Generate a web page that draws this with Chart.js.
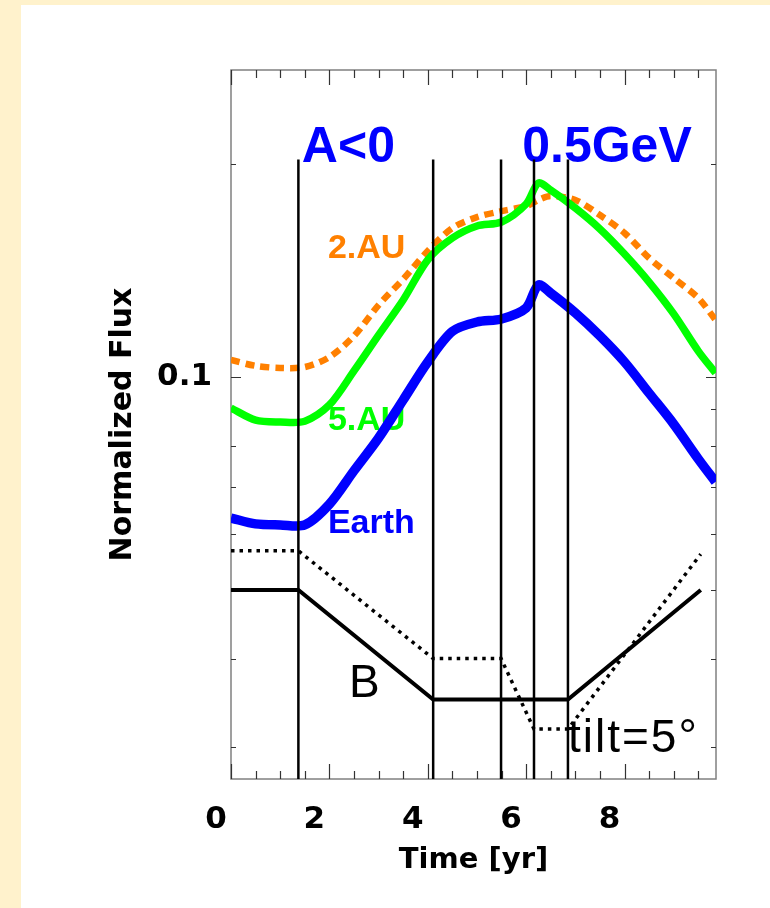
<!DOCTYPE html>
<html>
<head>
<meta charset="utf-8">
<script src="https://cdn.jsdelivr.net/npm/chart.js"></script>
<style>
  html, body { margin: 0; padding: 0; background: #fff; }
  canvas { display: block; }
</style>
</head>
<body>
<canvas id="flux" width="770" height="908"></canvas>
<script>
// time grid [yr] for the flux curves
var time = [0, 0.5, 1, 1.5, 2, 2.5, 3, 3.5, 4, 4.5, 5, 5.5, 6, 6.25, 6.5, 7, 7.5, 8, 8.5, 9, 9.5, 9.85];
// normalized flux at 0.5 GeV
var flux2AU   = [0.1057, 0.1037, 0.1030, 0.1033, 0.1067, 0.1143, 0.1264, 0.1375, 0.1507, 0.1624, 0.1683, 0.1716, 0.1744, 0.1779, 0.1802, 0.1779, 0.1694, 0.1598, 0.1473, 0.1380, 0.1293, 0.1204];
var flux5AU   = [0.0904, 0.0869, 0.0864, 0.0866, 0.0913, 0.1020, 0.1146, 0.1285, 0.1464, 0.1572, 0.1635, 0.1656, 0.1756, 0.1880, 0.1837, 0.1733, 0.1619, 0.1492, 0.1362, 0.1228, 0.1088, 0.1013];
var fluxEarth = [0.0632, 0.0620, 0.0618, 0.0618, 0.0661, 0.0737, 0.0820, 0.0928, 0.1050, 0.1160, 0.1196, 0.1208, 0.1252, 0.1349, 0.1314, 0.1232, 0.1143, 0.1050, 0.0949, 0.0858, 0.0766, 0.0711];

// magnetic field (B) and tilt angle profiles, scaled onto the flux axis
var bTime     = [0, 1.37, 4.11, 6.85, 9.55];
var bValue    = [0.05, 0.05, 0.035, 0.035, 0.05];
var tiltTime  = [0, 1.37, 4.11, 5.49, 6.16, 6.85, 9.55];
var tiltValue = [0.0568, 0.0568, 0.0400, 0.0400, 0.0318, 0.0318, 0.0562];

// phase boundaries (vertical lines)
var switchTimes = [1.37, 4.11, 5.49, 6.16, 6.85];
var lineTop = 0.203;

// axes
var xMin = 0, xMax = 9.86;
var yMin = 0.02703, yMax = 0.2716;
var xTicks = [0, 2, 4, 6, 8];
var yTicks = [0.03, 0.04, 0.05, 0.06, 0.07, 0.08, 0.09, 0.1, 0.2];

var notes = [
  {text: 'A<0',     x: 1.44, y: 0.201,  color: '#0000ff', font: 'bold 50px "Liberation Sans"', spacing: '0px'},
  {text: '0.5GeV',  x: 5.92, y: 0.201,  color: '#0000ff', font: 'bold 50px "Liberation Sans"', spacing: '0px'},
  {text: '2.AU',    x: 1.97, y: 0.1473, color: '#ff8000', font: 'bold 34px "Liberation Sans"', spacing: '0px'},
  {text: '5.AU',    x: 1.97, y: 0.0842, color: '#00ff00', font: 'bold 34px "Liberation Sans"', spacing: '0px'},
  {text: 'Earth',   x: 1.97, y: 0.0602, color: '#0000ff', font: 'bold 34px "Liberation Sans"', spacing: '0px'},
  {text: 'B',       x: 2.40, y: 0.0353, color: '#000000', font: '46px "Liberation Sans"', spacing: '0px'},
  {text: 'tilt=5°', x: 6.85, y: 0.0295, color: '#000000', font: '46px "Liberation Sans"', spacing: '2px'}
];

function pairs(xs, ys) {
  return xs.map(function (v, i) { return {x: v, y: ys[i]}; });
}

var datasets = switchTimes.map(function (t) {
  return {
    data: [{x: t, y: yMin}, {x: t, y: lineTop}],
    borderColor: '#000000', borderWidth: 2.5, pointRadius: 0, fill: false
  };
});
datasets.push(
  {label: '5 AU', data: pairs(time, flux5AU), borderColor: '#00ff00', borderWidth: 7.5, tension: 0.3, pointRadius: 0, fill: false},
  {label: 'Earth', data: pairs(time, fluxEarth), borderColor: '#0000ff', borderWidth: 9.5, tension: 0.3, pointRadius: 0, fill: false},
  {label: '2 AU', data: pairs(time, flux2AU), borderColor: '#ff8000', borderWidth: 6.5, borderDash: [9, 6], tension: 0.3, pointRadius: 0, fill: false},
  {label: 'tilt', data: pairs(tiltTime, tiltValue), borderColor: '#000000', borderWidth: 3.5, borderDash: [3.5, 5], pointRadius: 0, fill: false},
  {label: 'B', data: pairs(bTime, bValue), borderColor: '#000000', borderWidth: 4, pointRadius: 0, fill: false}
);

var paper = {
  id: 'paper',
  beforeDraw: function (chart) {
    var ctx = chart.ctx;
    ctx.save();
    ctx.fillStyle = '#ffffff';
    ctx.fillRect(0, 0, chart.width, chart.height);
    ctx.fillStyle = '#fff2cc';
    ctx.fillRect(0, 0, chart.width, 5);
    ctx.fillRect(0, 0, 21, chart.height);
    ctx.restore();
  },
  beforeDatasetsDraw: function (chart) {
    var ctx = chart.ctx, a = chart.chartArea, x = chart.scales.x, y = chart.scales.y;
    ctx.save();
    // labels sit under the curves
    notes.forEach(function (n) {
      ctx.font = n.font;
      ctx.fillStyle = n.color;
      ctx.letterSpacing = n.spacing;
      ctx.textBaseline = 'alphabetic';
      ctx.textAlign = 'left';
      ctx.fillText(n.text, x.getPixelForValue(n.x), y.getPixelForValue(n.y));
    });
    ctx.letterSpacing = '0px';
    // frame
    ctx.strokeStyle = '#808080';
    ctx.lineWidth = 1.5;
    ctx.strokeRect(a.left, a.top, a.right - a.left, a.bottom - a.top);
    // inward ticks
    ctx.strokeStyle = '#333333';
    ctx.lineWidth = 1.2;
    ctx.beginPath();
    for (var t = 0; t <= xMax; t += 0.5) {
      var px = Math.round(x.getPixelForValue(t)) + 0.5;
      var len = (t % 2 === 0) ? 15 : 8;
      ctx.moveTo(px, a.bottom); ctx.lineTo(px, a.bottom - len);
      ctx.moveTo(px, a.top); ctx.lineTo(px, a.top + len);
    }
    yTicks.forEach(function (v) {
      var py = Math.round(y.getPixelForValue(v)) + 0.5;
      var len = (v === 0.1) ? 10 : 5;
      ctx.moveTo(a.left, py); ctx.lineTo(a.left + len, py);
      ctx.moveTo(a.right, py); ctx.lineTo(a.right - len, py);
    });
    ctx.stroke();
    ctx.restore();
  }
};

var axisFont = {family: 'DejaVu Sans', weight: 'bold', size: 31};

new Chart(document.getElementById('flux'), {
  type: 'line',
  data: {datasets: datasets},
  plugins: [paper],
  options: {
    responsive: false,
    animation: false,
    layout: {padding: {top: 70, right: 54, left: 0, bottom: 0}},
    plugins: {legend: {display: false}, tooltip: {enabled: false}},
    scales: {
      x: {
        type: 'linear', min: xMin, max: xMax, bounds: 'data',
        grid: {display: false, drawTicks: false},
        border: {display: false},
        afterBuildTicks: function (s) { s.ticks = xTicks.map(function (v) { return {value: v}; }); },
        afterFit: function (s) { s.height = 129; },
        ticks: {
          color: '#000', font: axisFont, padding: 22, labelOffset: -15,
          autoSkip: false, maxRotation: 0,
          callback: function (v) { return String(v); }
        },
        title: {display: true, text: 'Time [yr]', color: '#000',
          font: {family: 'DejaVu Sans', weight: 'bold', size: 29}, padding: {top: 0, bottom: 30}}
      },
      y: {
        type: 'logarithmic', min: yMin, max: yMax, bounds: 'data',
        grid: {display: false, drawTicks: false},
        border: {display: false},
        afterBuildTicks: function (s) { s.ticks = yTicks.map(function (v) { return {value: v}; }); },
        afterFit: function (s) { s.width = 231; },
        ticks: {
          color: '#000', font: axisFont, padding: 19, autoSkip: false,
          callback: function (v) { return v === 0.1 ? '0.1' : ''; }
        },
        title: {display: true, text: 'Normalized Flux', color: '#000',
          font: {family: 'DejaVu Sans', weight: 'bold', size: 30}, padding: {top: 105, bottom: 0}}
      }
    }
  }
});
</script>
</body>
</html>
